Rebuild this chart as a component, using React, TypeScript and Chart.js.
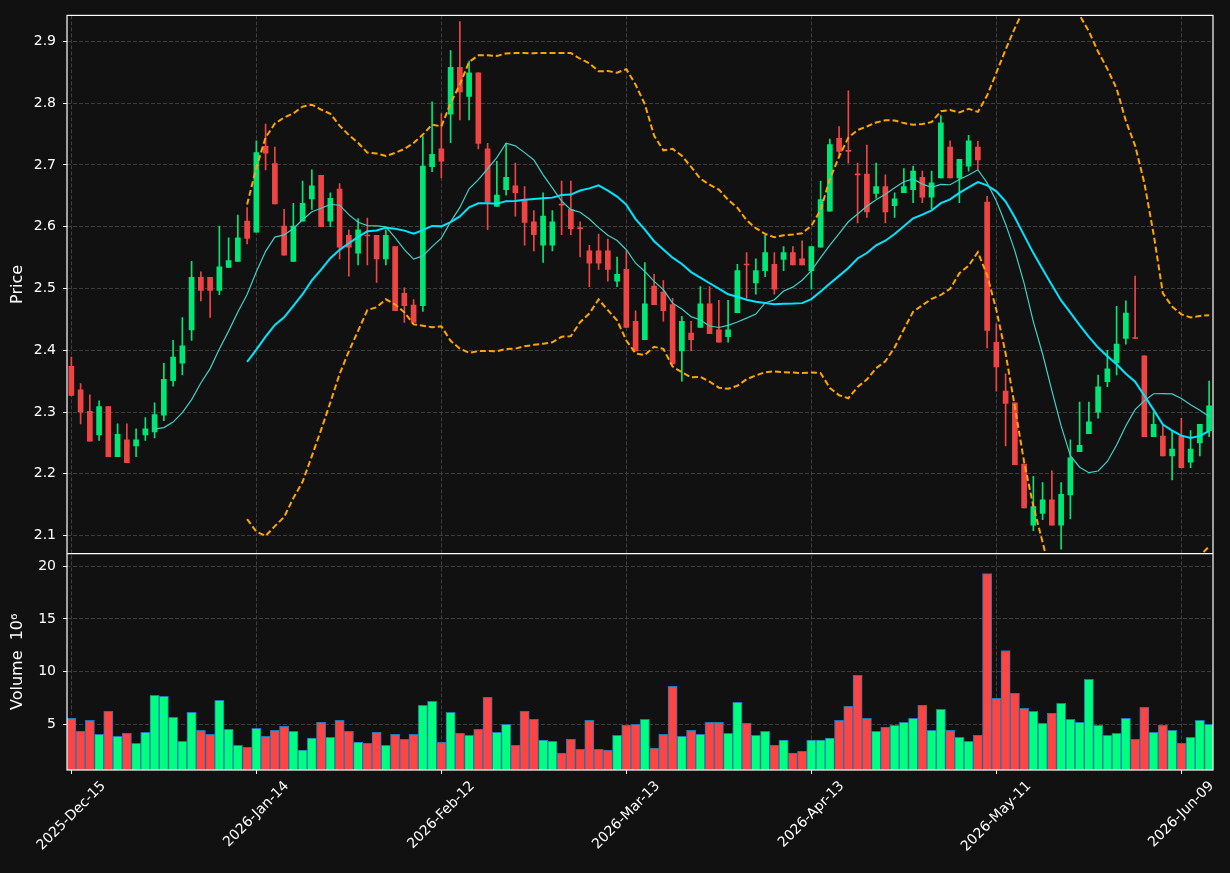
import React, { useEffect, useRef } from 'react';
import { Chart, registerables } from 'chart.js';

Chart.register(...registerables);

// ---- Data (one value per trading session) ----
const OPEN = [
  2.374, 2.336, 2.301, 2.263, 2.309, 2.228, 2.255, 2.245, 2.263, 2.268,
  2.295, 2.351, 2.379, 2.433, 2.518, 2.518, 2.497, 2.534, 2.544, 2.609,
  2.591, 2.730, 2.702, 2.601, 2.544, 2.609, 2.645, 2.683, 2.609, 2.661,
  2.586, 2.557, 2.586, 2.586, 2.548, 2.568, 2.492, 2.473, 2.472, 2.697,
  2.726, 2.782, 2.858, 2.811, 2.849, 2.726, 2.633, 2.660, 2.666, 2.643,
  2.608, 2.570, 2.570, 2.636, 2.628, 2.598, 2.561, 2.561, 2.561, 2.512,
  2.531, 2.447, 2.417, 2.504, 2.494, 2.474, 2.399, 2.428, 2.437, 2.475,
  2.433, 2.422, 2.461, 2.539, 2.509, 2.529, 2.539, 2.547, 2.558, 2.548,
  2.529, 2.567, 2.625, 2.743, 2.723, 2.685, 2.685, 2.654, 2.665, 2.634,
  2.655, 2.660, 2.680, 2.648, 2.679, 2.729, 2.679, 2.698, 2.729, 2.640,
  2.413, 2.334, 2.315, 2.216, 2.117, 2.136, 2.158, 2.117, 2.166, 2.236,
  2.265, 2.300, 2.349, 2.380, 2.419, 2.420, 2.391, 2.260, 2.261, 2.229,
  2.261, 2.219, 2.250, 2.270,
];
const HIGH = [
  2.389, 2.346, 2.328, 2.318, 2.309, 2.281, 2.281, 2.273, 2.291, 2.315,
  2.379, 2.416, 2.453, 2.544, 2.527, 2.518, 2.601, 2.582, 2.619, 2.631,
  2.739, 2.766, 2.729, 2.628, 2.638, 2.674, 2.692, 2.683, 2.655, 2.670,
  2.595, 2.613, 2.614, 2.586, 2.595, 2.568, 2.501, 2.482, 2.746, 2.802,
  2.783, 2.885, 2.932, 2.868, 2.849, 2.735, 2.706, 2.735, 2.703, 2.665,
  2.626, 2.655, 2.626, 2.674, 2.674, 2.608, 2.570, 2.588, 2.580, 2.551,
  2.561, 2.464, 2.542, 2.523, 2.513, 2.484, 2.455, 2.447, 2.503, 2.503,
  2.481, 2.481, 2.539, 2.558, 2.548, 2.586, 2.558, 2.568, 2.568, 2.577,
  2.568, 2.674, 2.742, 2.762, 2.820, 2.703, 2.732, 2.703, 2.684, 2.655,
  2.694, 2.698, 2.690, 2.690, 2.780, 2.739, 2.709, 2.748, 2.738, 2.649,
  2.443, 2.362, 2.315, 2.216, 2.196, 2.186, 2.205, 2.186, 2.255, 2.316,
  2.316, 2.360, 2.400, 2.471, 2.480, 2.520, 2.391, 2.300, 2.280, 2.270,
  2.290, 2.270, 2.280, 2.350,
];
const LOW = [
  2.326, 2.281, 2.253, 2.254, 2.228, 2.228, 2.218, 2.228, 2.254, 2.258,
  2.286, 2.342, 2.360, 2.416, 2.480, 2.453, 2.490, 2.534, 2.544, 2.572,
  2.591, 2.692, 2.637, 2.554, 2.544, 2.609, 2.628, 2.600, 2.600, 2.548,
  2.520, 2.538, 2.538, 2.510, 2.538, 2.464, 2.445, 2.445, 2.463, 2.689,
  2.679, 2.736, 2.773, 2.773, 2.726, 2.595, 2.633, 2.651, 2.617, 2.570,
  2.561, 2.542, 2.561, 2.587, 2.587, 2.551, 2.503, 2.531, 2.512, 2.503,
  2.437, 2.399, 2.417, 2.474, 2.447, 2.378, 2.350, 2.399, 2.437, 2.427,
  2.413, 2.413, 2.461, 2.484, 2.491, 2.519, 2.491, 2.529, 2.538, 2.538,
  2.499, 2.567, 2.625, 2.713, 2.703, 2.606, 2.615, 2.646, 2.606, 2.615,
  2.655, 2.639, 2.639, 2.629, 2.679, 2.679, 2.639, 2.690, 2.693, 2.404,
  2.334, 2.245, 2.215, 2.145, 2.108, 2.126, 2.117, 2.078, 2.127, 2.236,
  2.265, 2.290, 2.341, 2.360, 2.410, 2.419, 2.260, 2.260, 2.229, 2.190,
  2.210, 2.210, 2.229, 2.260,
];
const CLOSE = [
  2.327, 2.300, 2.253, 2.309, 2.228, 2.264, 2.218, 2.255, 2.273, 2.296,
  2.353, 2.389, 2.407, 2.518, 2.497, 2.497, 2.535, 2.545, 2.582, 2.581,
  2.720, 2.719, 2.637, 2.554, 2.601, 2.638, 2.666, 2.600, 2.646, 2.567,
  2.567, 2.595, 2.585, 2.548, 2.586, 2.464, 2.472, 2.445, 2.698, 2.717,
  2.706, 2.858, 2.818, 2.849, 2.735, 2.640, 2.651, 2.680, 2.655, 2.607,
  2.587, 2.617, 2.608, 2.635, 2.597, 2.597, 2.541, 2.541, 2.531, 2.523,
  2.437, 2.399, 2.475, 2.474, 2.464, 2.378, 2.447, 2.417, 2.475, 2.427,
  2.413, 2.433, 2.529, 2.538, 2.529, 2.558, 2.499, 2.558, 2.538, 2.538,
  2.568, 2.644, 2.733, 2.722, 2.722, 2.684, 2.624, 2.665, 2.624, 2.645,
  2.665, 2.690, 2.648, 2.671, 2.768, 2.679, 2.709, 2.739, 2.708, 2.432,
  2.373, 2.314, 2.215, 2.145, 2.147, 2.158, 2.117, 2.167, 2.226, 2.246,
  2.284, 2.341, 2.370, 2.410, 2.460, 2.419, 2.260, 2.280, 2.229, 2.240,
  2.210, 2.240, 2.280, 2.310,
];
// Volume in millions (axis shows "Volume 10^6")
const VOLUME = [
  5.57, 4.34, 5.38, 4.05, 6.23, 3.86, 4.15, 3.20, 4.24, 7.74,
  7.65, 5.66, 3.39, 6.14, 4.43, 4.05, 7.27, 4.53, 3.01, 2.82,
  4.62, 3.86, 4.43, 4.81, 4.34, 2.54, 3.68, 5.19, 3.77, 5.38,
  4.34, 3.30, 3.20, 4.24, 3.01, 4.05, 3.58, 4.05, 6.80, 7.18,
  3.30, 6.14, 4.15, 3.96, 4.53, 7.56, 4.24, 5.00, 3.01, 6.23,
  5.47, 3.49, 3.39, 2.26, 3.58, 2.63, 5.38, 2.63, 2.54, 3.96,
  4.91, 5.00, 5.47, 2.73, 4.05, 8.60, 3.86, 4.43, 4.05, 5.19,
  5.19, 4.15, 7.08, 5.09, 3.96, 4.34, 3.01, 3.49, 2.26, 2.44,
  3.49, 3.49, 3.68, 5.38, 6.70, 9.64, 5.57, 4.34, 4.72, 4.91,
  5.19, 5.57, 6.80, 4.43, 6.42, 4.43, 3.77, 3.39, 3.96, 19.29,
  7.46, 12.00, 7.93, 6.51, 6.23, 5.09, 6.04, 6.99, 5.47, 5.19,
  9.26, 4.91, 3.96, 4.15, 5.57, 3.58, 6.61, 4.24, 4.91, 4.43,
  3.20, 3.77, 5.38, 5.00,
];

const TICK_INDEX = [0, 20, 40, 60, 80, 100, 120];
const TICK_LABELS = [
  '2025-Dec-15', '2026-Jan-14', '2026-Feb-12', '2026-Mar-13',
  '2026-Apr-13', '2026-May-11', '2026-Jun-09',
];
const PRICE_TICKS = [2.1, 2.2, 2.3, 2.4, 2.5, 2.6, 2.7, 2.8, 2.9];
const VOLUME_TICKS = [5, 10, 15, 20];

// ---- Indicators derived from the closes (moving averages, Bollinger 20/2) ----
function rollingMean(values: number[], n: number): (number | null)[] {
  return values.map((_, i) => {
    if (i < n - 1) return null;
    let s = 0;
    for (let k = i - n + 1; k <= i; k++) s += values[k];
    return s / n;
  });
}
function rollingStd(values: number[], n: number): (number | null)[] {
  const mean = rollingMean(values, n);
  return values.map((_, i) => {
    const m = mean[i];
    if (m === null) return null;
    let s = 0;
    for (let k = i - n + 1; k <= i; k++) s += (values[k] - m) ** 2;
    return Math.sqrt(s / (n - 1));
  });
}

const FONT = '"DejaVu Sans", sans-serif';
const BG = '#111111';
const GRID = '#3e3e3e';
const UP_C = '#00e676';
const DN_C = '#ef4444';
const UP_V = '#00ff7f';
const DN_V = '#ff4444';

export default function App() {
  const ref = useRef<HTMLCanvasElement | null>(null);

  useEffect(() => {
    const canvas = ref.current;
    if (!canvas) return;
    const idx = CLOSE.map((_, i) => i);
    const up = CLOSE.map((c, i) => c >= OPEN[i]);
    const ma10 = rollingMean(CLOSE, 10);
    const ma20 = rollingMean(CLOSE, 20);
    const sd20 = rollingStd(CLOSE, 20);
    const bbUp = ma20.map((m, i) => (m === null ? null : m + 2 * (sd20[i] as number)));
    const bbLo = ma20.map((m, i) => (m === null ? null : m - 2 * (sd20[i] as number)));
    const pts = (arr: (number | null)[]) => arr.map((v, i) => ({ x: i, y: v }));

    const clipPlugin = {
      id: 'panelClip',
      beforeDatasetDraw(chart: any, args: any) {
        const ys = args.meta.yScale;
        const area = chart.chartArea;
        const ctx = chart.ctx;
        ctx.save();
        ctx.beginPath();
        ctx.rect(area.left, ys.top, area.right - area.left, ys.bottom - ys.top);
        ctx.clip();
      },
      afterDatasetDraw(chart: any) {
        chart.ctx.restore();
      },
    };

    const framePlugin = {
      id: 'frame',
      afterDraw(chart: any) {
        const { ctx, chartArea } = chart;
        const { left, right, top, bottom } = chartArea;
        const y = chart.scales.y;
        const x = chart.scales.x;
        ctx.save();
        ctx.strokeStyle = '#ffffff';
        ctx.lineWidth = 1.2;
        ctx.strokeRect(left, top, right - left, bottom - top);
        ctx.beginPath();
        ctx.moveTo(left, y.bottom);
        ctx.lineTo(right, y.bottom);
        ctx.stroke();
        // rotated date labels, centred on their ticks
        ctx.fillStyle = '#ffffff';
        ctx.font = `14px ${FONT}`;
        ctx.textAlign = 'center';
        ctx.textBaseline = 'middle';
        TICK_INDEX.forEach((t, k) => {
          const label = TICK_LABELS[k];
          const px = x.getPixelForValue(t);
          const w = ctx.measureText(label).width;
          const cy = bottom + 4 + 5 + ((w + 14) * Math.SQRT1_2) / 2;
          ctx.save();
          ctx.translate(px, cy);
          ctx.rotate(-Math.PI / 4);
          ctx.fillText(label, 0, 0);
          ctx.restore();
        });
        ctx.restore();
      },
    };

    const gridCommon = {
      color: GRID,
      lineWidth: 1,
      drawTicks: true,
      tickLength: 4,
      tickColor: '#ffffff',
      tickWidth: 1,
      tickBorderDash: [],
    };

    const chart = new Chart(canvas, {
      type: 'bar',
      data: {
        datasets: [
          {
            type: 'line', label: 'MA10', data: pts(ma10), yAxisID: 'y', xAxisID: 'x',
            borderColor: '#40d0c8', borderWidth: 1.2, pointRadius: 0, tension: 0, order: 0,
          } as any,
          {
            type: 'line', label: 'MA20', data: pts(ma20), yAxisID: 'y', xAxisID: 'x',
            borderColor: '#00e5ff', borderWidth: 2, pointRadius: 0, tension: 0, order: 0,
          },
          {
            type: 'line', label: 'BB upper', data: pts(bbUp), yAxisID: 'y', xAxisID: 'x',
            borderColor: '#ffa500', borderWidth: 2, borderDash: [6, 3], pointRadius: 0, tension: 0, order: 0,
          },
          {
            type: 'line', label: 'BB lower', data: pts(bbLo), yAxisID: 'y', xAxisID: 'x',
            borderColor: '#ffa500', borderWidth: 2, borderDash: [6, 3], pointRadius: 0, tension: 0, order: 0,
          },
          {
            type: 'bar', label: 'Body', data: idx.map((i) => ({ x: i, y: [OPEN[i], CLOSE[i]] })),
            yAxisID: 'y', xAxisID: 'x', backgroundColor: up.map((u) => (u ? UP_C : DN_C)),
            barThickness: 5, minBarLength: 1, grouped: false, borderWidth: 0, order: 1,
          },
          {
            type: 'bar', label: 'Wick', data: idx.map((i) => ({ x: i, y: [LOW[i], HIGH[i]] })),
            yAxisID: 'y', xAxisID: 'x', backgroundColor: up.map((u) => (u ? UP_C : DN_C)),
            barThickness: 1, grouped: false, borderWidth: 0, order: 2,
          },
          {
            type: 'bar', label: 'Volume', data: idx.map((i) => ({ x: i, y: VOLUME[i] })),
            yAxisID: 'v', xAxisID: 'x', backgroundColor: up.map((u) => (u ? UP_V : DN_V)),
            borderColor: '#1f77b4', borderWidth: 1, barPercentage: 1, categoryPercentage: 1,
            grouped: false, order: 3,
          },
        ] as any,
      },
      options: {
        responsive: false,
        animation: false,
        devicePixelRatio: 1,
        layout: { padding: { left: 0, top: 10, right: 17, bottom: 0 } },
        plugins: { legend: { display: false }, tooltip: { enabled: false } },
        scales: {
          x: {
            type: 'linear', min: -0.47, max: 123.42, offset: false,
            afterBuildTicks: (s: any) => { s.ticks = TICK_INDEX.map((v) => ({ value: v })); },
            afterFit: (s: any) => { s.height = 103; },
            ticks: { display: false },
            grid: { ...gridCommon, offset: false },
            border: { display: false, dash: [4, 2] },
          },
          v: {
            type: 'linear', position: 'left', stack: 'panels', stackWeight: 218,
            min: 0.66, max: 21.2,
            afterBuildTicks: (s: any) => { s.ticks = VOLUME_TICKS.map((v) => ({ value: v })); },
            afterFit: (s: any) => { s.width = 67; },
            ticks: {
              color: '#ffffff', font: { size: 14, family: FONT }, padding: 7,
              callback: (v: any) => String(Math.round(Number(v))),
            },
            grid: gridCommon,
            border: { display: false, dash: [4, 2] },
            title: {
              display: true, text: 'Volume  10⁶', color: '#ffffff',
              font: { size: 16, family: FONT }, padding: { top: 8, bottom: 0 },
            },
          },
          y: {
            type: 'linear', position: 'left', stack: 'panels', stackWeight: 542,
            min: 2.071, max: 2.942,
            afterBuildTicks: (s: any) => { s.ticks = PRICE_TICKS.map((v) => ({ value: v })); },
            afterFit: (s: any) => { s.width = 67; },
            ticks: {
              color: '#ffffff', font: { size: 14, family: FONT }, padding: 7,
              callback: (v: any) => Number(v).toFixed(1),
            },
            grid: gridCommon,
            border: { display: false, dash: [4, 2] },
            title: {
              display: true, text: 'Price', color: '#ffffff',
              font: { size: 16, family: FONT }, padding: { top: 8, bottom: 0 },
            },
          },
        } as any,
      },
      plugins: [clipPlugin, framePlugin],
    });
    return () => chart.destroy();
  }, []);

  return (
    <div style={{ width: 1230, height: 873, background: BG }}>
      <style>{`html,body{margin:0;padding:0;background:${BG};overflow:hidden}`}</style>
      <canvas ref={ref} width={1230} height={873} style={{ display: 'block' }} />
    </div>
  );
}
